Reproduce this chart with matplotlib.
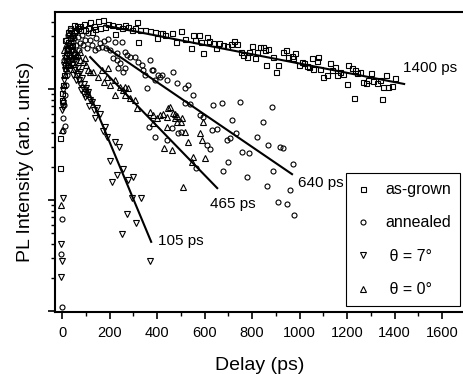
import matplotlib
matplotlib.use("Agg")
import matplotlib.pyplot as plt
from matplotlib.ticker import MultipleLocator, LogLocator, NullFormatter

plt.rcParams['font.family'] = ['Liberation Sans', 'DejaVu Sans']

# as-grown (squares)
grown_t = [-8, -8, 0, 0, 4, 8, 13, 17, 21, 25, 34, 42, 51, 59, 67,
           63, 76, 97, 109, 126, 139, 152, 173, 160, 181, 194, 211, 223, 236, 253,
           265, 278, 295, 307, 316, 320, 328, 349, 370, 392, 400, 413,
           421, 434, 463, 480, 501, 518, 543, 552, 560, 577, 585, 594, 610, 619,
           636, 648, 661, 678, 695, 711, 724, 737, 754, 762, 779, 787, 800, 813,
           821, 834, 846, 855, 867, 859, 888, 901, 909,
           930, 943, 951, 968, 981, 973, 998, 1010, 1019, 1031, 1040, 1053, 1057,
           1074, 1078, 1086, 1099, 1116, 1128, 1137, 1149, 1158, 1170, 1183, 1200,
           1204, 1221, 1234, 1242, 1255, 1267, 1280, 1288, 1301, 1309, 1326, 1339,
           1351, 1364, 1372, 1389, 1402, 1229, 1347,
           13, 25, 34, 42, 51, 76, 93, 118, 135]
grown_i = [0.194, 0.362, 0.80, 0.92, 1.09, 1.34, 1.64, 2.02, 2.34, 2.65, 2.88, 3.07, 3.26, 3.40, 3.55,
           3.70, 3.70, 3.40, 3.55, 3.26, 3.47, 4.10, 4.19, 3.55, 3.62, 3.85, 3.77, 3.13, 3.70, 3.55,
           3.77, 3.62, 3.40, 3.55, 4.01, 2.65, 3.40, 3.40, 3.33, 3.26, 2.88, 3.20,
           3.20, 3.07, 3.20, 2.65, 3.33, 2.82, 2.34, 3.07, 2.76, 3.07, 2.65, 2.11, 2.94, 2.71,
           2.60, 2.34, 2.60, 2.49, 2.44, 2.54, 2.71, 2.54, 2.15, 2.02, 1.94, 2.15, 2.44, 1.90,
           2.15, 2.39, 2.39, 2.25, 2.29, 1.64, 1.94, 1.42, 1.64,
           2.15, 2.25, 1.94, 1.98, 2.11, 1.90, 1.64, 1.75, 1.71, 1.61, 1.58, 1.90, 1.51,
           1.79, 1.94, 1.51, 1.28, 1.34, 1.71, 1.48, 1.58, 1.34, 1.42, 1.36, 1.11,
           1.64, 1.55, 1.48, 1.39, 1.42, 1.16, 1.13, 1.21, 1.39, 1.18, 1.13, 1.21,
           1.04, 1.34, 1.04, 1.06, 1.26, 0.83, 0.81,
           2.76, 3.26, 3.55, 2.49, 3.77, 3.40, 3.85, 4.01, 3.70]

# annealed (circles)
ann_t = [0, -4, 0, 4, 13, 4, 8, 13, 17, 21, 25, 29, 34, 34, 25, 42, 55, 67, 46, 76,
         97, 109, 84, 105, 126, 139, 152, 160, 177, 194, 223, 253, 168, 185, 202, 232,
         215, 265, 274, 286, 307, 232, 244, 265, 236, 257, 337, 370, 379, 320, 349, 404,
         392, 341, 383, 421, 413, 467, 358, 442, 484, 518, 530, 552, 518, 539, 636, 674,
         749, 884, 581, 594, 716, 846, 463, 488, 501, 632, 653, 733, 442, 695, 707, 821,
         867, 918, 930, 610, 623, 758, 787, 699, 973, 678, 888, 564, 779, 863, 960, 909,
         947, 977, 392, 366,
         8, 17, 21, 29, 38, 46, 59, 72, 88, 51, 118, 143]
ann_i = [0.0109, 0.0326, 0.0675, 0.548, 0.464, 0.418, 0.72, 0.88, 1.09, 1.34, 1.64, 2.02, 2.49, 3.40, 3.07, 2.88, 3.26, 2.94, 2.65, 2.60,
         2.76, 3.20, 3.07, 2.34, 2.49, 2.25, 2.34, 2.60, 2.71, 2.82, 2.65, 2.65, 2.39, 2.34, 2.25, 2.11,
         1.90, 2.15, 2.02, 1.94, 1.94, 1.82, 1.71, 1.55, 1.55, 1.42, 1.64, 1.82, 1.48, 1.75, 1.34, 1.34,
         1.21, 1.48, 1.48, 1.34, 1.28, 1.42, 1.02, 1.21, 1.13, 1.02, 1.09, 0.88, 0.748, 0.733, 0.72, 0.748,
         0.763, 0.689, 0.58, 0.56, 0.53, 0.505, 0.445, 0.402, 0.41, 0.43, 0.436, 0.402, 0.35, 0.35, 0.362, 0.37,
         0.31, 0.30, 0.294, 0.31, 0.288, 0.27, 0.265, 0.22, 0.211, 0.182, 0.182, 0.194, 0.161, 0.134, 0.123, 0.096,
         0.092, 0.073, 0.37, 0.455,
         1.82, 2.76, 2.25, 3.07, 2.65, 2.25, 2.49, 2.25, 2.49, 2.88, 2.76, 2.88]

# theta = 7 deg (down triangles)
t7_t = [-4, 0, -4, 4, 4, 4, 0, 4, 8, 13, 17, 21, 25, 34, 42, 51, 55, 34, 42, 59,
        67, 76, 51, 63, 72, 84, 93, 101, 80, 109, 97, 118, 126, 147, 160, 181, 173, 189,
        223, 240, 202, 257, 232, 211, 278, 299, 295, 333, 274, 312, 253, 370,
        8, 13, 21, 29, 34, 38, 46, 55, 59, 67, 76, 88, 93, 105, 114, 135, 139]
t7_i = [0.0202, 0.0282, 0.0402, 0.104, 0.689, 0.748, 0.65, 0.98, 1.21, 1.48, 1.75, 2.02, 2.25, 2.34, 2.25, 2.02, 1.82, 1.90, 1.64, 1.75,
        1.55, 1.42, 1.48, 1.31, 1.21, 1.26, 1.11, 1.02, 0.98, 0.94, 0.85, 0.80, 0.76, 0.67, 0.60, 0.455, 0.418, 0.37,
        0.333, 0.30, 0.225, 0.19, 0.168, 0.145, 0.151, 0.161, 0.104, 0.104, 0.0748, 0.062, 0.0494, 0.0282,
        1.64, 1.90, 1.55, 1.75, 1.48, 2.15, 1.34, 1.55, 1.21, 1.36, 1.11, 1.02, 0.90, 0.88, 0.70, 0.65, 0.55]

# theta = 0 deg (up triangles)
t0_t = [-4, 0, 4, 8, 13, 17, 25, 34, 42, 55, 67, 76, 88, 101, 109, 118, 131, 152, 168, 189,
        194, 177, 202, 223, 223, 244, 265, 278, 257, 265, 286, 307, 316, 370, 383, 400, 413, 425,
        446, 442, 455, 467, 476, 484, 476, 501, 383, 442, 484, 505, 518, 581, 589, 594, 530,
        429, 463, 552, 602, 547, 509,
        8, 17, 25, 34, 46, 59, 76, 97]
t0_i = [0.090, 0.43, 0.80, 1.09, 1.34, 1.55, 1.82, 2.02, 1.90, 2.15, 2.02, 1.82, 1.75, 1.64, 1.48, 1.42, 1.42, 1.28, 1.48, 1.28,
        1.55, 1.16, 1.09, 1.21, 0.88, 1.04, 1.04, 1.02, 0.98, 0.88, 0.83, 0.80, 0.67, 0.62, 0.58, 0.548, 0.58, 0.595,
        0.67, 0.56, 0.69, 0.61, 0.595, 0.57, 0.548, 0.505, 0.494, 0.455, 0.505, 0.548, 0.41, 0.402, 0.35, 0.505, 0.333,
        0.294, 0.28, 0.244, 0.239, 0.22, 0.131,
        2.25, 2.49, 2.34, 1.64, 1.75, 2.02, 2.15, 1.90]

# fitted exponential decays: (t_start, t_end), (I_start, I_end), label, label position
fit_t = [(181, 1440), (189, 968), (118, 653), (105, 375)]
fit_i = [(3.73, 1.11), (2.34, 0.171), (1.94, 0.128), (1.02, 0.042)]
fit_labels = ['1400 ps', '640 ps', '465 ps', '105 ps']
label_t = [1436, 994, 623, 404]
label_i = [1.55, 0.142, 0.092, 0.0427]

fig = plt.figure(figsize=(4.64, 3.74), dpi=100)
ax = fig.add_axes([55/464, 62/374, 409/464, 300/374])

mk = dict(linestyle='none', mfc='none', mec='black', mew=0.8)
ax.plot(grown_t, grown_i, marker='s', ms=3.6, label='as-grown', **mk)
ax.plot(ann_t, ann_i, marker='o', ms=3.6, label='annealed', **mk)
ax.plot(t7_t, t7_i, marker='v', ms=4.2, label=' \u03b8 = 7\u00b0', **mk)
ax.plot(t0_t, t0_i, marker='^', ms=4.2, label=' \u03b8 = 0\u00b0', **mk)

for tt, ii in zip(fit_t, fit_i):
    ax.plot(tt, ii, color='black', lw=1.5)
for lab, lt, li in zip(fit_labels, label_t, label_i):
    ax.text(lt, li, lab, fontsize=11, va='center', ha='left')

ax.set_yscale('log')
ax.set_xlim(-30, 1692)
ax.set_ylim(0.0098, 4.94)
ax.xaxis.set_major_locator(MultipleLocator(200))
ax.xaxis.set_minor_locator(MultipleLocator(100))
ax.yaxis.set_major_locator(LogLocator(base=10))
ax.yaxis.set_minor_locator(LogLocator(base=10, subs=range(2, 10)))
ax.yaxis.set_major_formatter(NullFormatter())
ax.yaxis.set_minor_formatter(NullFormatter())
ax.tick_params(which='major', direction='out', length=5, width=1.2, labelsize=10.5, pad=5)
ax.tick_params(which='minor', direction='out', length=3, width=1.0)
ax.spines['right'].set_visible(False)
for s in ['left', 'bottom', 'top']:
    ax.spines[s].set_linewidth(1.5)

ax.set_xlabel('Delay (ps)', fontsize=14, labelpad=12)
ax.set_ylabel('PL Intensity (arb. units)', fontsize=14, labelpad=5)

leg = ax.legend(loc='lower right', bbox_to_anchor=(0.99, 0.02), borderaxespad=0, fontsize=11.5,
                frameon=True, fancybox=False, edgecolor='black', framealpha=1,
                labelspacing=1.15, handlelength=1.0, handletextpad=0.9, borderpad=0.55)
leg.get_frame().set_linewidth(0.8)

fig.savefig('out.png', dpi=100)
